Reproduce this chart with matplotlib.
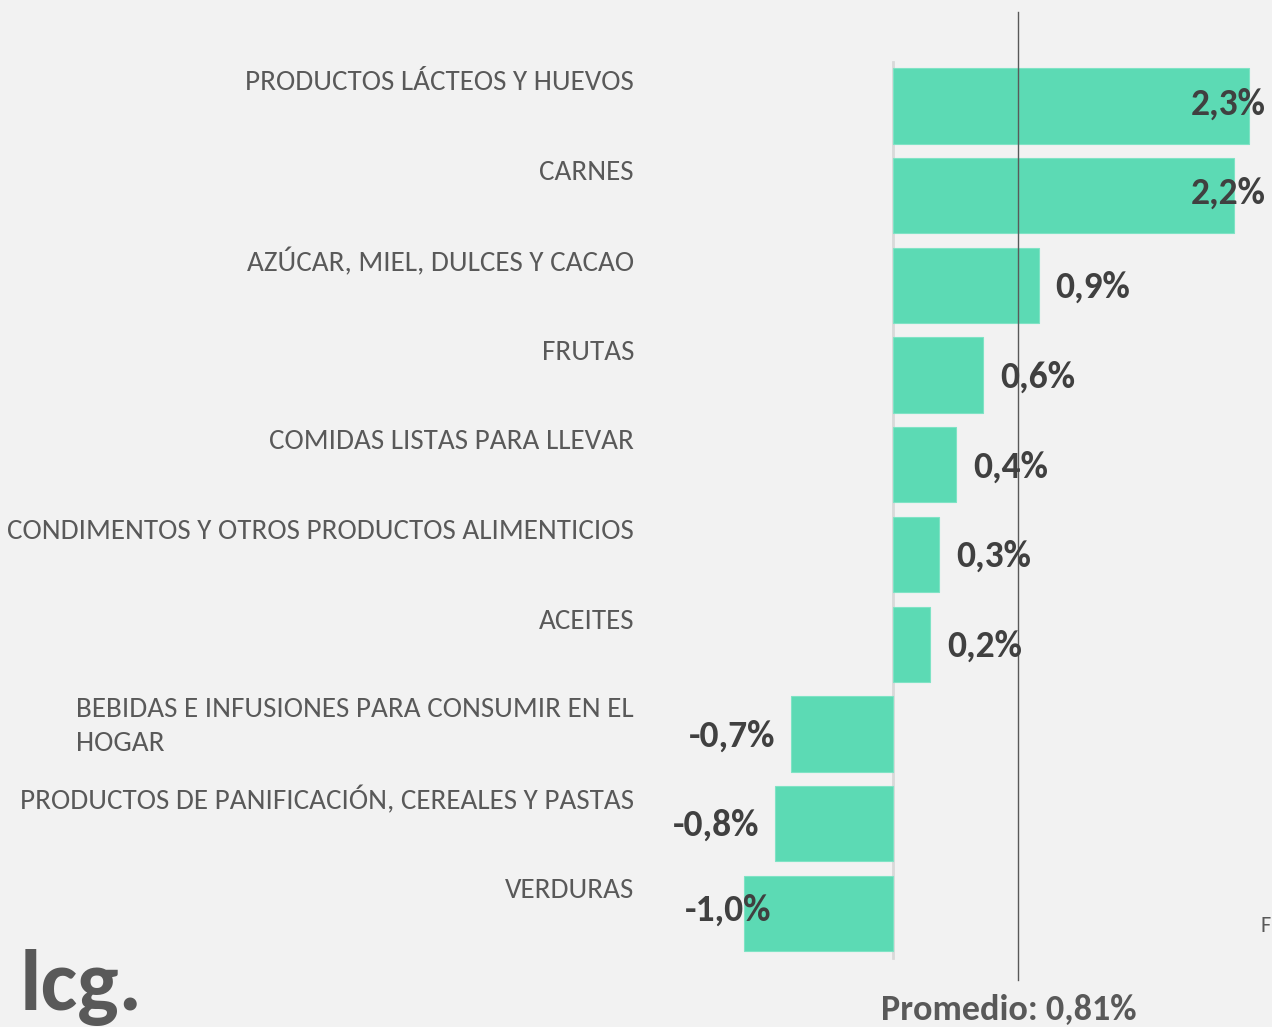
import matplotlib.pyplot as plt
from matplotlib import font_manager
from matplotlib.transforms import blended_transform_factory

# Data
categories = [
    'PRODUCTOS LÁCTEOS Y HUEVOS',
    'CARNES',
    'AZÚCAR, MIEL, DULCES Y CACAO',
    'FRUTAS',
    'COMIDAS LISTAS PARA LLEVAR',
    'CONDIMENTOS Y OTROS PRODUCTOS ALIMENTICIOS',
    'ACEITES',
    'BEBIDAS E INFUSIONES PARA CONSUMIR EN EL\nHOGAR',
    'PRODUCTOS DE PANIFICACIÓN, CEREALES Y PASTAS',
    'VERDURAS',
]
values = [2.3, 2.2, 0.94, 0.58, 0.41, 0.30, 0.24, -0.66, -0.76, -0.96]
average = 0.81

installed = {f.name for f in font_manager.fontManager.ttflist}
font = 'Carlito' if 'Carlito' in installed else 'Lato'
plt.rcParams['font.family'] = [font, 'DejaVu Sans']

BG = '#F2F2F2'
BAR = '#5CDAB4'
LABEL = '#595959'
VALUE = '#404040'

W, H = 1272, 1027
fig = plt.figure(figsize=(W / 100, H / 100), dpi=100, facecolor=BG)
ax = fig.add_axes([0, 0, 1, 1])
ax.set_facecolor(BG)

# pixel mapping: zero at x=893, 154.8 px per unit; rows every 89.7 px starting 106
x0, xs = 893, 154.8
y0, ys = 106, 89.7
ax.set_xlim(-x0 / xs, (W - x0) / xs)
ax.set_ylim((H - y0) / ys, -y0 / ys)
ax.axis('off')

ypos = list(range(len(values)))
ax.barh(ypos, values, height=0.84, color=BAR, edgecolor='#7FE3C5', linewidth=0.8, zorder=2)

# zero axis line
ax.plot([0, 0], [(62 - y0) / ys, (958 - y0) / ys], color='#D9D9D9', lw=2, zorder=1)
# average line
ax.plot([average, average], [(12 - y0) / ys, (980 - y0) / ys], color='#595959', lw=1, zorder=3)

trans = blended_transform_factory(ax.transAxes, ax.transData)
value_texts = []
for i, (cat, v) in enumerate(zip(categories, values)):
    if '\n' in cat:
        ax.text(634 / W, i - 37 / ys, cat, transform=trans, ha='right', va='top',
                multialignment='left', fontsize=21, color=LABEL, linespacing=1.46)
    else:
        ax.text(634 / W, i - 23 / ys, cat, transform=trans, ha='right', va='center',
                fontsize=21, color=LABEL)
    txt = f'{v:.1f}%'.replace('.', ',')
    if v >= 0:
        t = ax.text(v + 17 / xs, i + 2 / ys, txt, ha='left', va='center', fontsize=27,
                    fontweight='bold', color=VALUE, zorder=4)
    else:
        t = ax.text(v - 16 / xs, i + 2 / ys, txt, ha='right', va='center', fontsize=27,
                    fontweight='bold', color=VALUE, zorder=4)
    value_texts.append(t)

# keep value labels inside the chart area
fig.canvas.draw()
r = fig.canvas.get_renderer()
for t in value_texts:
    bb = t.get_window_extent(r)
    x, y = t.get_position()
    if bb.x1 > 1266:
        t.set_position((x - (bb.x1 - 1266) / xs, y - 4 / ys))
    if bb.x0 < 660:
        t.set_position((x + (685 - bb.x0) / xs, y - 5 / ys))

fig.text(1009 / W, 1 - 1010 / H, 'Promedio: 0,81%', ha='center', va='center', fontsize=26,
         fontweight='bold', color=LABEL)
fig.text(20 / W, 1 - 987 / H, 'lcg.', ha='left', va='center', fontsize=63,
         fontweight='bold', color=LABEL)
fig.text(1261 / W, 1 - 926 / H, 'F', ha='left', va='center', fontsize=16, color=LABEL)

fig.savefig('out.png', dpi=100, facecolor=BG)
